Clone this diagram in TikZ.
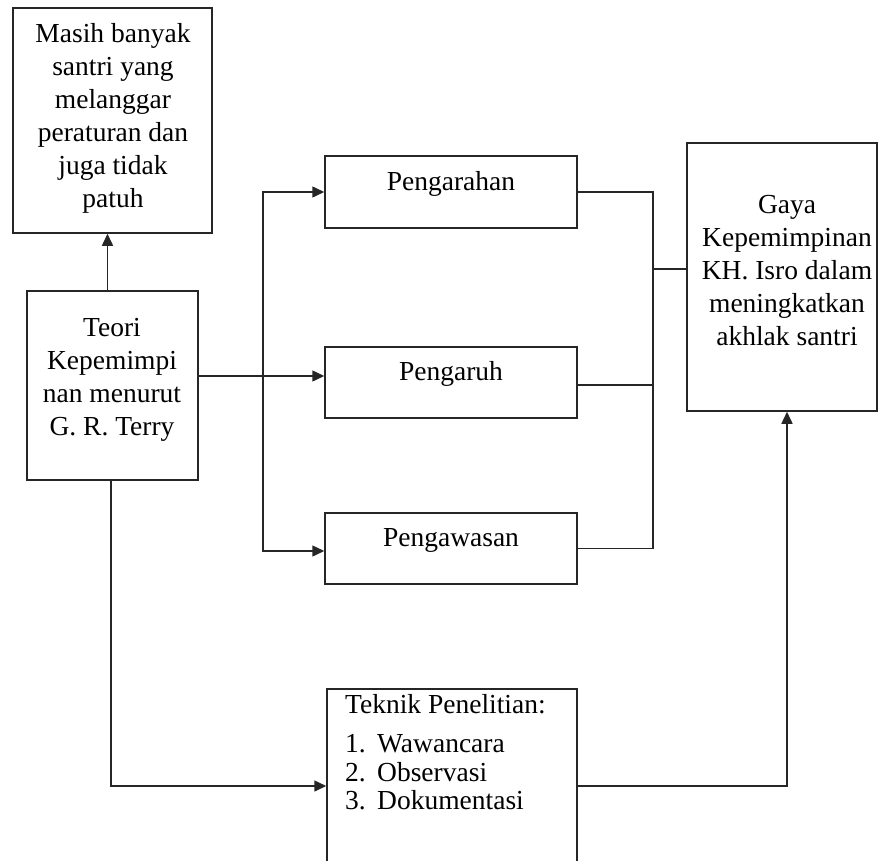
\documentclass[tikz,border=0pt]{standalone}
\usepackage{fontspec}
\setmainfont{Liberation Serif}
\usetikzlibrary{arrows.meta,calc}
\tikzset{
  box/.style={draw=black!85, line width=1.5pt, inner sep=0pt, minimum width=#1},
  txt/.style={inner sep=0pt, align=center, font=\fontsize{27.5}{33}\selectfont},
  ltxt/.style={inner sep=0pt, anchor=west, font=\fontsize{27.5}{33}\selectfont},
  conn/.style={draw=black!85, line width=1.5pt},
  arr/.style={conn, -{Triangle[length=12pt,width=11pt]}}
}
\begin{document}
\begin{tikzpicture}[x=1pt,y=-1pt]
\useasboundingbox (0,0) rectangle (880,861);
\fill[white] (0,0) rectangle (880,861);
\clip (0,0) rectangle (880,861);
% boxes
\node[box=199pt, minimum height=225pt] (masih) at (112.5,120.5) {};
\node[box=171pt, minimum height=189pt] (teori) at (112.5,385.5) {};
\node[box=252pt, minimum height=72pt] (p1) at (451,192) {};
\node[box=252pt, minimum height=71pt] (p2) at (451,382.5) {};
\node[box=252pt, minimum height=71pt] (p3) at (451,548.5) {};
\node[box=190pt, minimum height=268pt] (gaya) at (782,277) {};
\node[box=250pt, minimum height=211pt] (teknik) at (452,794.5) {};
% texts
\node[txt] (tmasih) at (113,118) {Masih banyak\\santri yang\\melanggar\\peraturan dan\\juga tidak\\patuh};
\node[txt] (tteori) at (112,380) {Teori\\Kepemimpi\\nan menurut\\G. R. Terry};
\node[txt] (tgaya) at (787,271) {Gaya\\Kepemimpinan\\KH. Isro dalam\\meningkatkan\\akhlak santri};
\node[txt] (tp1) at (451,184) {Pengarahan};
\node[txt] (tp2) at (451,374) {Pengaruh};
\node[txt] (tp3) at (451,540) {Pengawasan};
\node[ltxt] (tk0) at (345,704) {Teknik Penelitian:};
\node[ltxt] (tk1) at (345,744) {\makebox[32pt][l]{1.}Wawancara};
\node[ltxt] (tk2) at (345,772) {\makebox[32pt][l]{2.}Observasi};
\node[ltxt] (tk3) at (345,800) {\makebox[32pt][l]{3.}Dokumentasi};
% helper coordinates
\coordinate (lbus) at (263,376);
\coordinate (rbus) at (653,269);
\coordinate (tkx) at (111,786);
\coordinate (gx) at (787,786);
% connectors
\draw[arr] ([xshift=-5pt]teori.north) -- ([xshift=-5pt]masih.south);
\draw[arr] (teori.east |- lbus) -- (p2.west |- lbus);
\draw[arr] (lbus) |- (p1.west);
\draw[arr] (lbus) |- ([yshift=-2.5pt]p3.west);
\draw[conn] (p1.east) -| (rbus);
\draw[conn] ([yshift=-2.5pt]p2.east) -| (rbus);
\draw[conn] (p3.east) -| (rbus);
\draw[conn] (rbus) -- (gaya.west |- rbus);
\draw[arr] (teori.south -| tkx) |- (teknik.west |- tkx);
\draw[arr] (teknik.east |- gx) -| (gaya.south -| gx);
\end{tikzpicture}
\end{document}
